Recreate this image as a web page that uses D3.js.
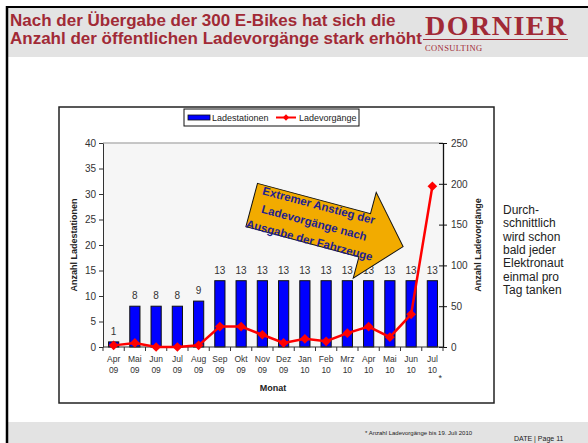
<!DOCTYPE html>
<html><head><meta charset="utf-8">
<script src="https://cdn.jsdelivr.net/npm/d3@7"></script>
<style>
html,body{margin:0;padding:0;background:#fff;}
svg{display:block;font-family:"Liberation Sans",Arial,sans-serif;}
</style></head>
<body>
<script>
const months = ["Apr","Mai","Jun","Jul","Aug","Sep","Okt","Nov","Dez","Jan","Feb","Mrz","Apr","Mai","Jun","Jul"];
const years  = ["09","09","09","09","09","09","09","09","09","10","10","10","10","10","10","10"];
const ladestationen = [1,8,8,8,9,13,13,13,13,13,13,13,13,13,13,13];
const ladevorgaenge = [2,5,0,0,2,25,25,15,5,10,7,17,25,12,40,197];
const leftTicks = [0,5,10,15,20,25,30,35,40];
const rightTicks = [0,50,100,150,200,250];
const titleLines = ["Nach der Übergabe der 300 E-Bikes hat sich die","Anzahl der öffentlichen Ladevorgänge stark erhöht"];
const arrowLines = ["Extremer Anstieg der","Ladevorgänge nach","Ausgabe der Fahrzeuge"];
const sideLines = ["Durch-","schnittlich","wird schon","bald jeder","Elektronaut","einmal pro","Tag tanken"];

const W=588,H=443;
const svg=d3.select("body").append("svg").attr("width",W).attr("height",H);

// header / page
svg.append("rect").attr("x",0).attr("y",0).attr("width",W).attr("height",H).attr("fill","#fff");
svg.append("rect").attr("x",8).attr("y",8).attr("width",W-8).attr("height",49).attr("fill","#e3e3e3");
svg.append("rect").attr("x",8).attr("y",422).attr("width",W-8).attr("height",21).attr("fill","#e3e3e3");
svg.append("line").attr("x1",6).attr("x2",W).attr("y1",7).attr("y2",7).attr("stroke","#000").attr("stroke-width",2);
svg.append("line").attr("x1",7).attr("x2",7).attr("y1",6).attr("y2",H).attr("stroke","#000").attr("stroke-width",2.5);

const red="#a12a36";
svg.selectAll("text.title").data(titleLines).enter().append("text")
  .attr("x",10).attr("y",(d,i)=>26+i*18).attr("fill",red)
  .attr("font-size",17).attr("font-weight","bold").text(d=>d);
svg.append("text").attr("x",425).attr("y",35).attr("fill",red)
  .attr("font-family","'Liberation Serif','Times New Roman',serif").attr("font-size",28)
  .attr("font-weight","bold").attr("letter-spacing",1.5).text("DORNIER");
svg.append("line").attr("x1",423).attr("x2",568).attr("y1",39.5).attr("y2",39.5).attr("stroke",red).attr("stroke-width",1.2);
svg.append("text").attr("x",425).attr("y",51).attr("fill",red)
  .attr("font-family","'Liberation Serif','Times New Roman',serif").attr("font-size",8.5)
  .attr("letter-spacing",0.4).text("CONSULTING");

// footer
svg.append("text").attr("x",365).attr("y",435).attr("font-size",6).attr("fill","#222").text("* Anzahl Ladevorgänge bis 19. Juli 2010");
svg.append("text").attr("x",514).attr("y",441).attr("font-size",7).attr("fill","#222").text("DATE | Page 11");

// chart frame
svg.append("rect").attr("x",59).attr("y",107).attr("width",435).attr("height",296)
  .attr("fill","#fff").attr("stroke","#222").attr("stroke-width",1.5);

const L=103,R=443,T=143,B=347;
const x=d3.scaleBand().domain(d3.range(months.length)).range([L,R]).paddingInner(0.52).paddingOuter(0.26);
const yL=d3.scaleLinear().domain([0,40]).range([B,T]);
const yR=d3.scaleLinear().domain([0,250]).range([B,T]);

svg.append("rect").attr("x",L).attr("y",T).attr("width",R-L).attr("height",B-T).attr("fill","#f6f6f6");
svg.append("line").attr("x1",L).attr("x2",R).attr("y1",T).attr("y2",T).attr("stroke","#b4b4b4").attr("stroke-width",1.5);

// bars
svg.selectAll("rect.bar").data(ladestationen).enter().append("rect")
  .attr("x",(d,i)=>x(i)).attr("y",d=>yL(d)).attr("width",x.bandwidth()).attr("height",d=>B-yL(d))
  .attr("fill","#0000ff").attr("stroke","#111").attr("stroke-width",1);
svg.selectAll("text.val").data(ladestationen).enter().append("text")
  .attr("x",(d,i)=>x(i)+x.bandwidth()/2).attr("y",d=>yL(d)-7).attr("text-anchor","middle")
  .attr("font-size",10).attr("fill","#333").text(d=>d);

// axes
const gl=svg.append("g").attr("transform",`translate(${L},0)`)
  .call(d3.axisLeft(yL).tickValues(leftTicks).tickSizeInner(4).tickSizeOuter(0).tickPadding(3));
gl.select(".domain").attr("stroke","#333");
gl.selectAll(".tick line").attr("stroke","#333");
gl.selectAll("text").attr("font-size",10).attr("fill","#333").attr("font-family","'Liberation Sans',Arial,sans-serif");

const gr=svg.append("g").attr("transform",`translate(${R},0)`)
  .call(d3.axisRight(yR).tickValues(rightTicks).tickSizeInner(4).tickSizeOuter(0).tickPadding(4));
gr.select(".domain").attr("stroke","#111").attr("stroke-width",1.3);
gr.selectAll(".tick line").attr("x1",-4).attr("stroke","#111");
gr.selectAll("text").attr("font-size",10).attr("fill","#333").attr("font-family","'Liberation Sans',Arial,sans-serif");

// bottom axis
svg.append("line").attr("x1",L).attr("x2",R).attr("y1",B).attr("y2",B).attr("stroke","#333").attr("stroke-width",1.2);
svg.selectAll("line.xt").data(d3.range(months.length+1)).enter().append("line")
  .attr("x1",i=>L+i*x.step()).attr("x2",i=>L+i*x.step()).attr("y1",B).attr("y2",B+4).attr("stroke","#333");
const xl=svg.selectAll("text.xl").data(months).enter().append("text")
  .attr("text-anchor","middle").attr("font-size",8.5).attr("fill","#333");
xl.append("tspan").attr("x",(d,i)=>x(i)+x.bandwidth()/2).attr("y",362).text(d=>d);
xl.append("tspan").attr("x",(d,i)=>x(i)+x.bandwidth()/2).attr("y",373).text((d,i)=>years[i]);
svg.append("text").attr("x",x(15)+x.bandwidth()/2+6).attr("y",381).attr("font-size",9).attr("fill","#333").text("*");

// axis titles
svg.append("text").attr("transform",`translate(77,${(T+B)/2}) rotate(-90)`).attr("text-anchor","middle")
  .attr("font-size",9).attr("font-weight","bold").attr("fill","#222").text("Anzahl Ladestationen");
svg.append("text").attr("transform",`translate(481,${(T+B)/2}) rotate(-90)`).attr("text-anchor","middle")
  .attr("font-size",9).attr("font-weight","bold").attr("fill","#222").text("Anzahl Ladevorgänge");
svg.append("text").attr("x",(L+R)/2).attr("y",391).attr("text-anchor","middle")
  .attr("font-size",9).attr("font-weight","bold").attr("fill","#222").text("Monat");

// line
const line=d3.line().x((d,i)=>x(i)+x.bandwidth()/2).y(d=>yR(d));
svg.append("path").datum(ladevorgaenge).attr("d",line).attr("fill","none").attr("stroke","#ff0000").attr("stroke-width",2.5);
const diamond=d3.symbol().type(d3.symbolDiamond2).size(60);
svg.selectAll("path.mk").data(ladevorgaenge).enter().append("path")
  .attr("d",diamond).attr("transform",(d,i)=>`translate(${x(i)+x.bandwidth()/2},${yR(d)})`).attr("fill","#ff0000");

// legend
const lg=svg.append("g");
lg.append("rect").attr("x",184).attr("y",109).attr("width",175).attr("height",17).attr("fill","#fff").attr("stroke","#111");
lg.append("rect").attr("x",188).attr("y",115).attr("width",22).attr("height",5).attr("fill","#0000ff").attr("stroke","#111").attr("stroke-width",0.8);
lg.append("text").attr("x",212).attr("y",121).attr("font-size",9).attr("fill","#222").text("Ladestationen");
lg.append("line").attr("x1",276).attr("x2",296).attr("y1",117.5).attr("y2",117.5).attr("stroke","#ff0000").attr("stroke-width",2);
lg.append("path").attr("d",d3.symbol().type(d3.symbolDiamond2).size(25)).attr("transform","translate(286,117.5)").attr("fill","#ff0000");
lg.append("text").attr("x",299).attr("y",121).attr("font-size",9).attr("fill","#222").text("Ladevorgänge");

// arrow annotation
const ag=svg.append("g").attr("transform","translate(251.7,205) rotate(15)");
ag.append("path").attr("d","M0,-22.4 L117,-22.4 L117,-44.4 L157,1 L117,44.4 L117,22.4 L0,22.4 Z")
  .attr("fill","#f2ab00").attr("stroke","#111").attr("stroke-width",1);
ag.selectAll("text").data(arrowLines).enter().append("text")
  .attr("x",65).attr("y",(d,i)=>-13+i*18).attr("text-anchor","middle")
  .attr("font-size",11.5).attr("font-weight","bold").attr("fill","#1f1f8f").text(d=>d);

// side text
svg.selectAll("text.side").data(sideLines).enter().append("text")
  .attr("x",503).attr("y",(d,i)=>214+i*13.3).attr("font-size",12).attr("fill","#222").text(d=>d);
</script>
</body></html>
